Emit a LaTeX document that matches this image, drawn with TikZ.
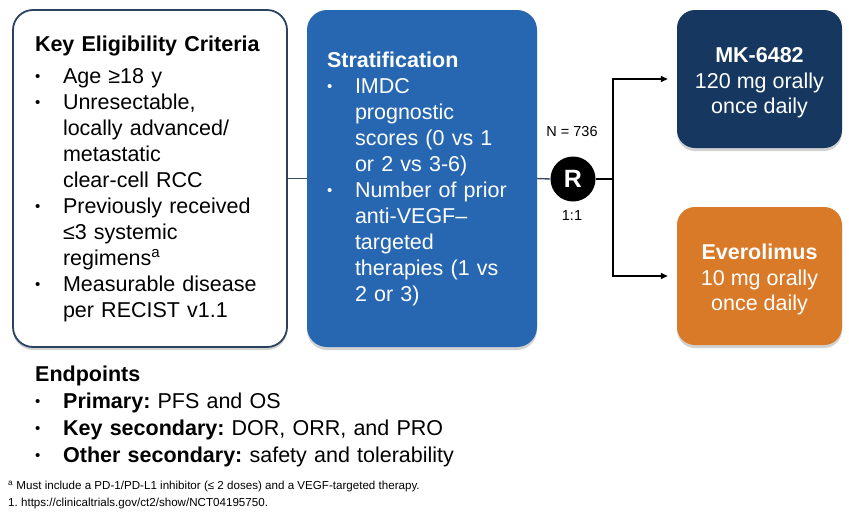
\documentclass[tikz,border=0pt]{standalone}
\usepackage{fontspec}
\setmainfont{Liberation Sans}
\usepackage{xcolor}
\usepackage{tikz}
\usetikzlibrary{arrows.meta}
\usetikzlibrary{shadows}
\definecolor{eliedge}{HTML}{2B4160}
\definecolor{stratblue}{HTML}{2767B1}
\definecolor{mknavy}{HTML}{153760}
\definecolor{everorange}{HTML}{D97A28}
\definecolor{linkgray}{HTML}{3D4D5F}
\setlength{\parindent}{0pt}
\frenchspacing
\newcommand{\dotmark}{\raisebox{1.5pt}{\fontsize{15}{15}\selectfont\textbullet}}
\newcommand{\bitem}[1]{\par\noindent\hangindent=28pt\hangafter=1%
  \makebox[28pt][l]{\dotmark}{\def\\{\hfil\break}#1}}
\newcommand{\bigfont}{\fontsize{21.5}{26}\selectfont}

\begin{document}
\begin{tikzpicture}[x=1pt,y=-1pt,
  shade/.style={drop shadow={shadow xshift=0pt,shadow yshift=-3pt,opacity=.25,fill=black!70}},
  bigbox/.style={rounded corners=20pt, inner sep=0pt, align=left, font=\bigfont, shade},
  armbox/.style={rounded corners=18pt, inner sep=0pt, align=center, text=white,
    minimum width=165pt, minimum height=138pt, font=\fontsize{21.5}{25.5}\selectfont, shade},
  arr/.style={-{Triangle[length=7pt,width=6pt]}, line width=1.4pt, shorten >=9pt}]
\useasboundingbox (0,0) rectangle (849,512);

\node[bigbox, draw=eliedge, line width=1.8pt, fill=white, minimum width=274pt,
  minimum height=337pt, text width=230pt] (elig) at (150,178.5) {%
  \textbf{Key Eligibility Criteria}\par\vspace{6pt}
  \bitem{Age ≥18 y}
  \bitem{Unresectable,\\locally advanced/\\metastatic\\clear-cell RCC}
  \bitem{Previously received\\≤3 systemic\\regimens\textsuperscript{a}}
  \bitem{Measurable disease\\per RECIST v1.1}\par};

\node[bigbox, fill=stratblue, text=white, minimum width=230pt,
  minimum height=337pt, text width=190pt] (strat) at (422,178.5) {%
  \textbf{Stratification}
  \bitem{IMDC\\prognostic\\scores (0 vs 1\\or 2 vs 3-6)}
  \bitem{Number of prior\\anti-VEGF–\\targeted\\therapies (1 vs\\2 or 3)}\par};

\node[circle, fill=black, minimum size=45pt, inner sep=0pt, text=white,
  font=\bfseries\fontsize{25}{25}\selectfont] (rand) at (573,179) {R};
\node[anchor=base, font=\fontsize{14.5}{16}\selectfont] (nlab) at (572,136) {N = 736};
\node[anchor=base, font=\fontsize{14.5}{16}\selectfont] (ratio) at (572,220) {1:1};

\node[armbox, fill=mknavy] (mk) at (759.5,79)
  {\rule{0pt}{23pt}\textbf{MK-6482}\\120 mg orally\\once daily};
\node[armbox, fill=everorange] (evero) at (759.5,276)
  {\rule{0pt}{23pt}\textbf{Everolimus}\\10 mg orally\\once daily};

% connectors
\draw[linkgray, line width=1.4pt] (elig.east) -- (strat.west);
\draw[linkgray, line width=1.4pt] (strat.east) -- (rand.west);
\coordinate (split) at (613,179);
\draw[line width=1.4pt] (rand.east) -- (split);
\draw[arr] (split) |- (mk.west);
\draw[arr] (split) |- (evero.west);

% endpoints and notes
\node[anchor=north west, inner sep=0pt, text width=440pt, align=left,
  font=\fontsize{21.5}{27}\selectfont] (endp) at (35,365.5) {%
  \textbf{Endpoints}
  \bitem{\textbf{Primary:} PFS and OS}
  \bitem{\textbf{Key secondary:} DOR, ORR, and PRO}
  \bitem{\textbf{Other secondary:} safety and tolerability}\par};
\node[anchor=north west, inner sep=0pt, align=left,
  font=\fontsize{11.6}{17}\selectfont] (fnote) at (8,481) {%
  \textsuperscript{a} Must include a PD-1/PD-L1 inhibitor (≤ 2 doses) and a VEGF-targeted therapy.\\
  1. https://clinicaltrials.gov/ct2/show/NCT04195750.};
\end{tikzpicture}
\end{document}
